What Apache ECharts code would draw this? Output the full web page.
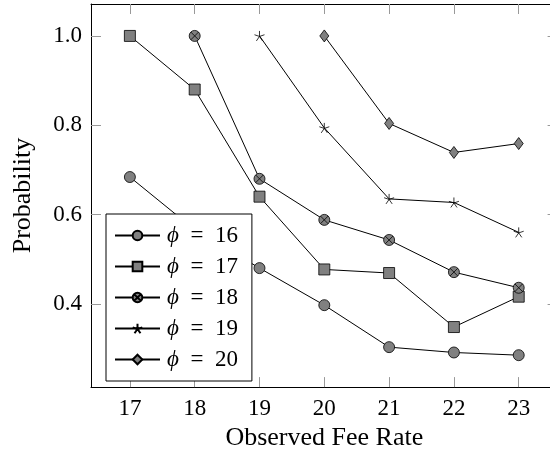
<!DOCTYPE html>
<html>
<head>
<meta charset="utf-8">
<script src="https://cdn.jsdelivr.net/npm/echarts@6/dist/echarts.min.js"></script>
<style>
	html, body { margin: 0; padding: 0; background: #fff; overflow: hidden; }
	#chart { width: 560px; height: 456px; }
</style>
</head>
<body>
<div id="chart"></div>
<script>
// data
var feeRates = [17, 18, 19, 20, 21, 22, 23];
var phi16 = [0.684, 0.566, 0.480, 0.397, 0.303, 0.291, 0.285];
var phi17 = [1.000, 0.880, 0.640, 0.477, 0.469, 0.348, 0.416];
var phi18 = [null, 1.000, 0.680, 0.588, 0.543, 0.471, 0.436];
var phi19 = [null, null, 1.000, 0.794, 0.635, 0.627, 0.560];
var phi20 = [null, null, null, 1.000, 0.804, 0.739, 0.759];
var phiNames = ["16", "17", "18", "19", "20"];
var yTicks = [0.4, 0.6, 0.8, 1.0];

var font = "Liberation Serif";
var markFill = "#808080";

var otimes = "path://M0,10 A10,10 0 1,1 20,10 A10,10 0 1,1 0,10 Z M2.93,2.93 L17.07,17.07 M17.07,2.93 L2.93,17.07";
var star = "path://M10,10 L10,0 M10,10 L19.51,6.91 M10,10 L15.88,18.09 M10,10 L4.12,18.09 M10,10 L0.49,6.91";

function pairs(values) {
	var out = [];
	for (var i = 0; i < feeRates.length; i++) {
		if (values[i] !== null) {
			out.push([feeRates[i], values[i]]);
		}
	}
	return out;
}

function makeSeries(name, values, symbol, size, fill) {
	return {
		name: name,
		type: "line",
		data: pairs(values),
		symbol: symbol,
		symbolSize: size,
		showAllSymbol: true,
		lineStyle: { color: "#000", width: 1 },
		itemStyle: { color: fill, borderColor: "#000", borderWidth: 0.8 },
		emphasis: { disabled: true },
		animation: false
	};
}

var chart = echarts.init(document.getElementById("chart"));

var tickLine = { color: "#999", width: 1 };

var option = {
	backgroundColor: "#fff",
	animation: false,
	grid: { left: 91, top: 4, width: 466.6, bottom: 64.3 },
	legend: {
		left: 106,
		top: 214,
		orient: "vertical",
		backgroundColor: "#fff",
		borderColor: "#000",
		borderWidth: 1,
		borderRadius: 0,
		padding: [10, 14, 10, 8],
		itemGap: 8,
		itemWidth: 45,
		itemHeight: 12,
		textStyle: {
			fontFamily: font,
			fontSize: 23,
			color: "#000",
			padding: [0, 0, 0, 2],
			rich: {
				p: { fontFamily: font, fontSize: 23, fontStyle: "italic" },
				e: { fontFamily: font, fontSize: 23, width: 36, align: "center" },
				n: { fontFamily: font, fontSize: 23 }
			}
		},
		formatter: function (name) {
			return "{p|\u03d5}{e|=}{n|" + name.replace("phi", "") + "}";
		},
		data: phiNames.map(function (n) { return "phi" + n; })
	},
	xAxis: [
		{
			type: "value",
			min: 16.4,
			max: 23.6,
			position: "bottom",
			name: "Observed Fee Rate",
			nameLocation: "middle",
			nameGap: 35,
			nameTextStyle: { fontFamily: font, fontSize: 26, color: "#000" },
			axisLine: { show: true, lineStyle: { color: "#000", width: 1 } },
			axisTick: { show: true, inside: true, length: 10, customValues: feeRates, lineStyle: tickLine },
			axisLabel: { customValues: feeRates, margin: 10, fontFamily: font, fontSize: 23, color: "#000" },
			splitLine: { show: false }
		},
		{
			type: "value",
			min: 16.4,
			max: 23.6,
			position: "top",
			axisLine: { show: true, lineStyle: { color: "#000", width: 1 } },
			axisTick: { show: true, inside: true, length: 10, customValues: feeRates, lineStyle: tickLine },
			axisLabel: { show: false },
			splitLine: { show: false }
		}
	],
	yAxis: [
		{
			type: "value",
			min: 0.2135,
			max: 1.0715,
			position: "left",
			name: "Probability",
			nameLocation: "middle",
			nameGap: 55,
			nameTextStyle: { fontFamily: font, fontSize: 26, color: "#000" },
			axisLine: { show: true, lineStyle: { color: "#000", width: 1 } },
			axisTick: { show: true, inside: true, length: 10, customValues: yTicks, lineStyle: tickLine },
			axisLabel: {
				customValues: yTicks,
				margin: 9,
				fontFamily: font,
				fontSize: 23,
				color: "#000",
				formatter: function (v) { return v.toFixed(1); }
			},
			splitLine: { show: false }
		},
		{
			type: "value",
			min: 0.2135,
			max: 1.0715,
			position: "right",
			axisLine: { show: true, lineStyle: { color: "#000", width: 1 } },
			axisTick: { show: true, inside: true, length: 10, customValues: yTicks, lineStyle: tickLine },
			axisLabel: { show: false },
			splitLine: { show: false }
		}
	],
	series: [
		makeSeries("phi16", phi16, "circle", 11, markFill),
		makeSeries("phi17", phi17, "rect", 11, markFill),
		makeSeries("phi18", phi18, otimes, 11, markFill),
		makeSeries("phi19", phi19, star, 10, "rgba(0,0,0,0)"),
		makeSeries("phi20", phi20, "diamond", [9, 12], markFill)
	]
};

chart.setOption(option);
</script>
</body>
</html>
